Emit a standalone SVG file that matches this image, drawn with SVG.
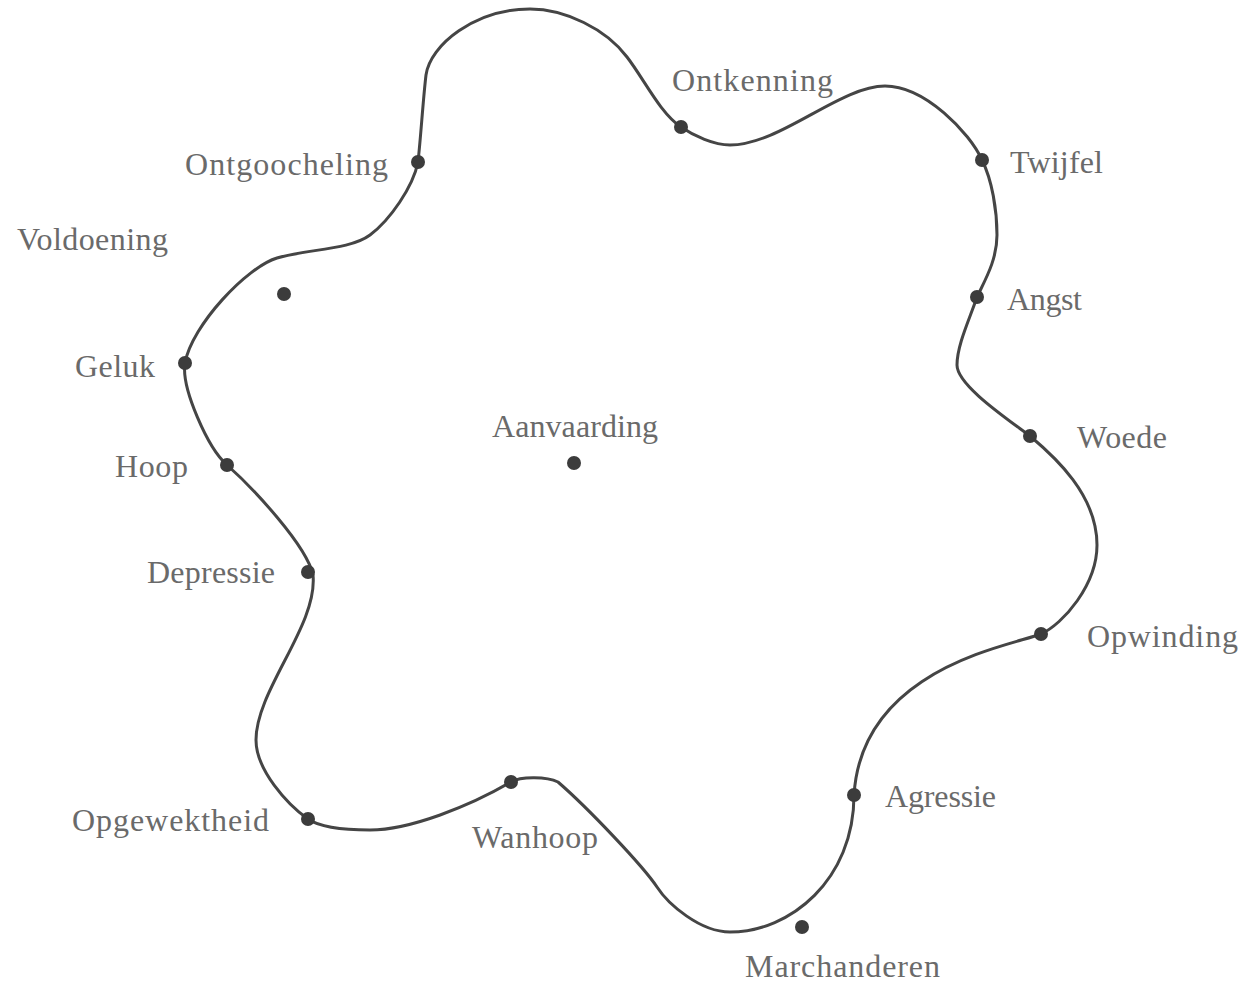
<svg xmlns="http://www.w3.org/2000/svg" width="1245" height="982" viewBox="0 0 1245 982">
<style>
.lbl{font-family:"Liberation Serif","Times New Roman",serif;font-size:32px;fill:#6a6a6a;}
.dot{fill:#3c3c3c;}
.curve{fill:none;stroke:#454545;stroke-width:3;stroke-linejoin:round;}
</style>
<rect width="1245" height="982" fill="#ffffff"/>
<g id="connectors">
<path class="curve" d="M418,162 C421,135 423,100 426,75 C430,45 475,9 530,9 C565,9 606,29 627,57 C644,79 660,113 681,127 C694,136 714,145 730,145 C780,145 840,86 885,86 C925,86 970,133 982,160 C992,180 997,210 997,235 C997,260 985,280 977,297 C970,318 957,345 957,365 C957,385 1006,418 1030,436 C1055,457 1097,495 1097,545 C1097,585 1063,624 1041,634 C1010,646 862,668 854,795 C854,880 790,932 730,932 C700,932 668,904 657,887 C643,866 588,808 558,782 C547,776.6 521,776 511,782 C470,806 410,830 370,830 C345,830 320,827.5 308,819 C287.5,804.75 256,770 256,740 C256,690 318,625 313,575 C307,546 253,488 227,465 C208,448.5 181,388 185,363 C192,325 247,267 277,258 C307,249 350,250 370,235 C390,220 413,187 418,162 Z"/>
</g>
<g id="ontgoocheling"><circle class="dot" cx="418" cy="162" r="7"/><text class="lbl" x="185" y="175" textLength="203" lengthAdjust="spacing">Ontgoocheling</text></g>
<g id="ontkenning"><circle class="dot" cx="681" cy="127" r="7"/><text class="lbl" x="672" y="91" textLength="161" lengthAdjust="spacing">Ontkenning</text></g>
<g id="twijfel"><circle class="dot" cx="982" cy="160" r="7"/><text class="lbl" x="1010" y="173" textLength="93" lengthAdjust="spacing">Twijfel</text></g>
<g id="angst"><circle class="dot" cx="977" cy="297" r="7"/><text class="lbl" x="1007" y="310" textLength="75" lengthAdjust="spacing">Angst</text></g>
<g id="woede"><circle class="dot" cx="1030" cy="436" r="7"/><text class="lbl" x="1077" y="448" textLength="90" lengthAdjust="spacing">Woede</text></g>
<g id="opwinding"><circle class="dot" cx="1041" cy="634" r="7"/><text class="lbl" x="1087" y="647" textLength="151" lengthAdjust="spacing">Opwinding</text></g>
<g id="agressie"><circle class="dot" cx="854" cy="795" r="7"/><text class="lbl" x="885" y="807" textLength="111" lengthAdjust="spacing">Agressie</text></g>
<g id="marchanderen"><circle class="dot" cx="802" cy="927" r="7"/><text class="lbl" x="745" y="977" textLength="195" lengthAdjust="spacing">Marchanderen</text></g>
<g id="wanhoop"><circle class="dot" cx="511" cy="782" r="7"/><text class="lbl" x="472" y="848" textLength="126" lengthAdjust="spacing">Wanhoop</text></g>
<g id="opgewektheid"><circle class="dot" cx="308" cy="819" r="7"/><text class="lbl" x="72" y="831" textLength="197" lengthAdjust="spacing">Opgewektheid</text></g>
<g id="depressie"><circle class="dot" cx="308" cy="572" r="7"/><text class="lbl" x="147" y="583" textLength="128" lengthAdjust="spacing">Depressie</text></g>
<g id="hoop"><circle class="dot" cx="227" cy="465" r="7"/><text class="lbl" x="115" y="477" textLength="73" lengthAdjust="spacing">Hoop</text></g>
<g id="geluk"><circle class="dot" cx="185" cy="363" r="7"/><text class="lbl" x="75" y="377" textLength="80" lengthAdjust="spacing">Geluk</text></g>
<g id="voldoening"><circle class="dot" cx="284" cy="294" r="7"/><text class="lbl" x="17" y="250" textLength="151" lengthAdjust="spacing">Voldoening</text></g>
<g id="aanvaarding"><circle class="dot" cx="574" cy="463" r="7"/><text class="lbl" x="492" y="437" textLength="166" lengthAdjust="spacing">Aanvaarding</text></g>
</svg>
